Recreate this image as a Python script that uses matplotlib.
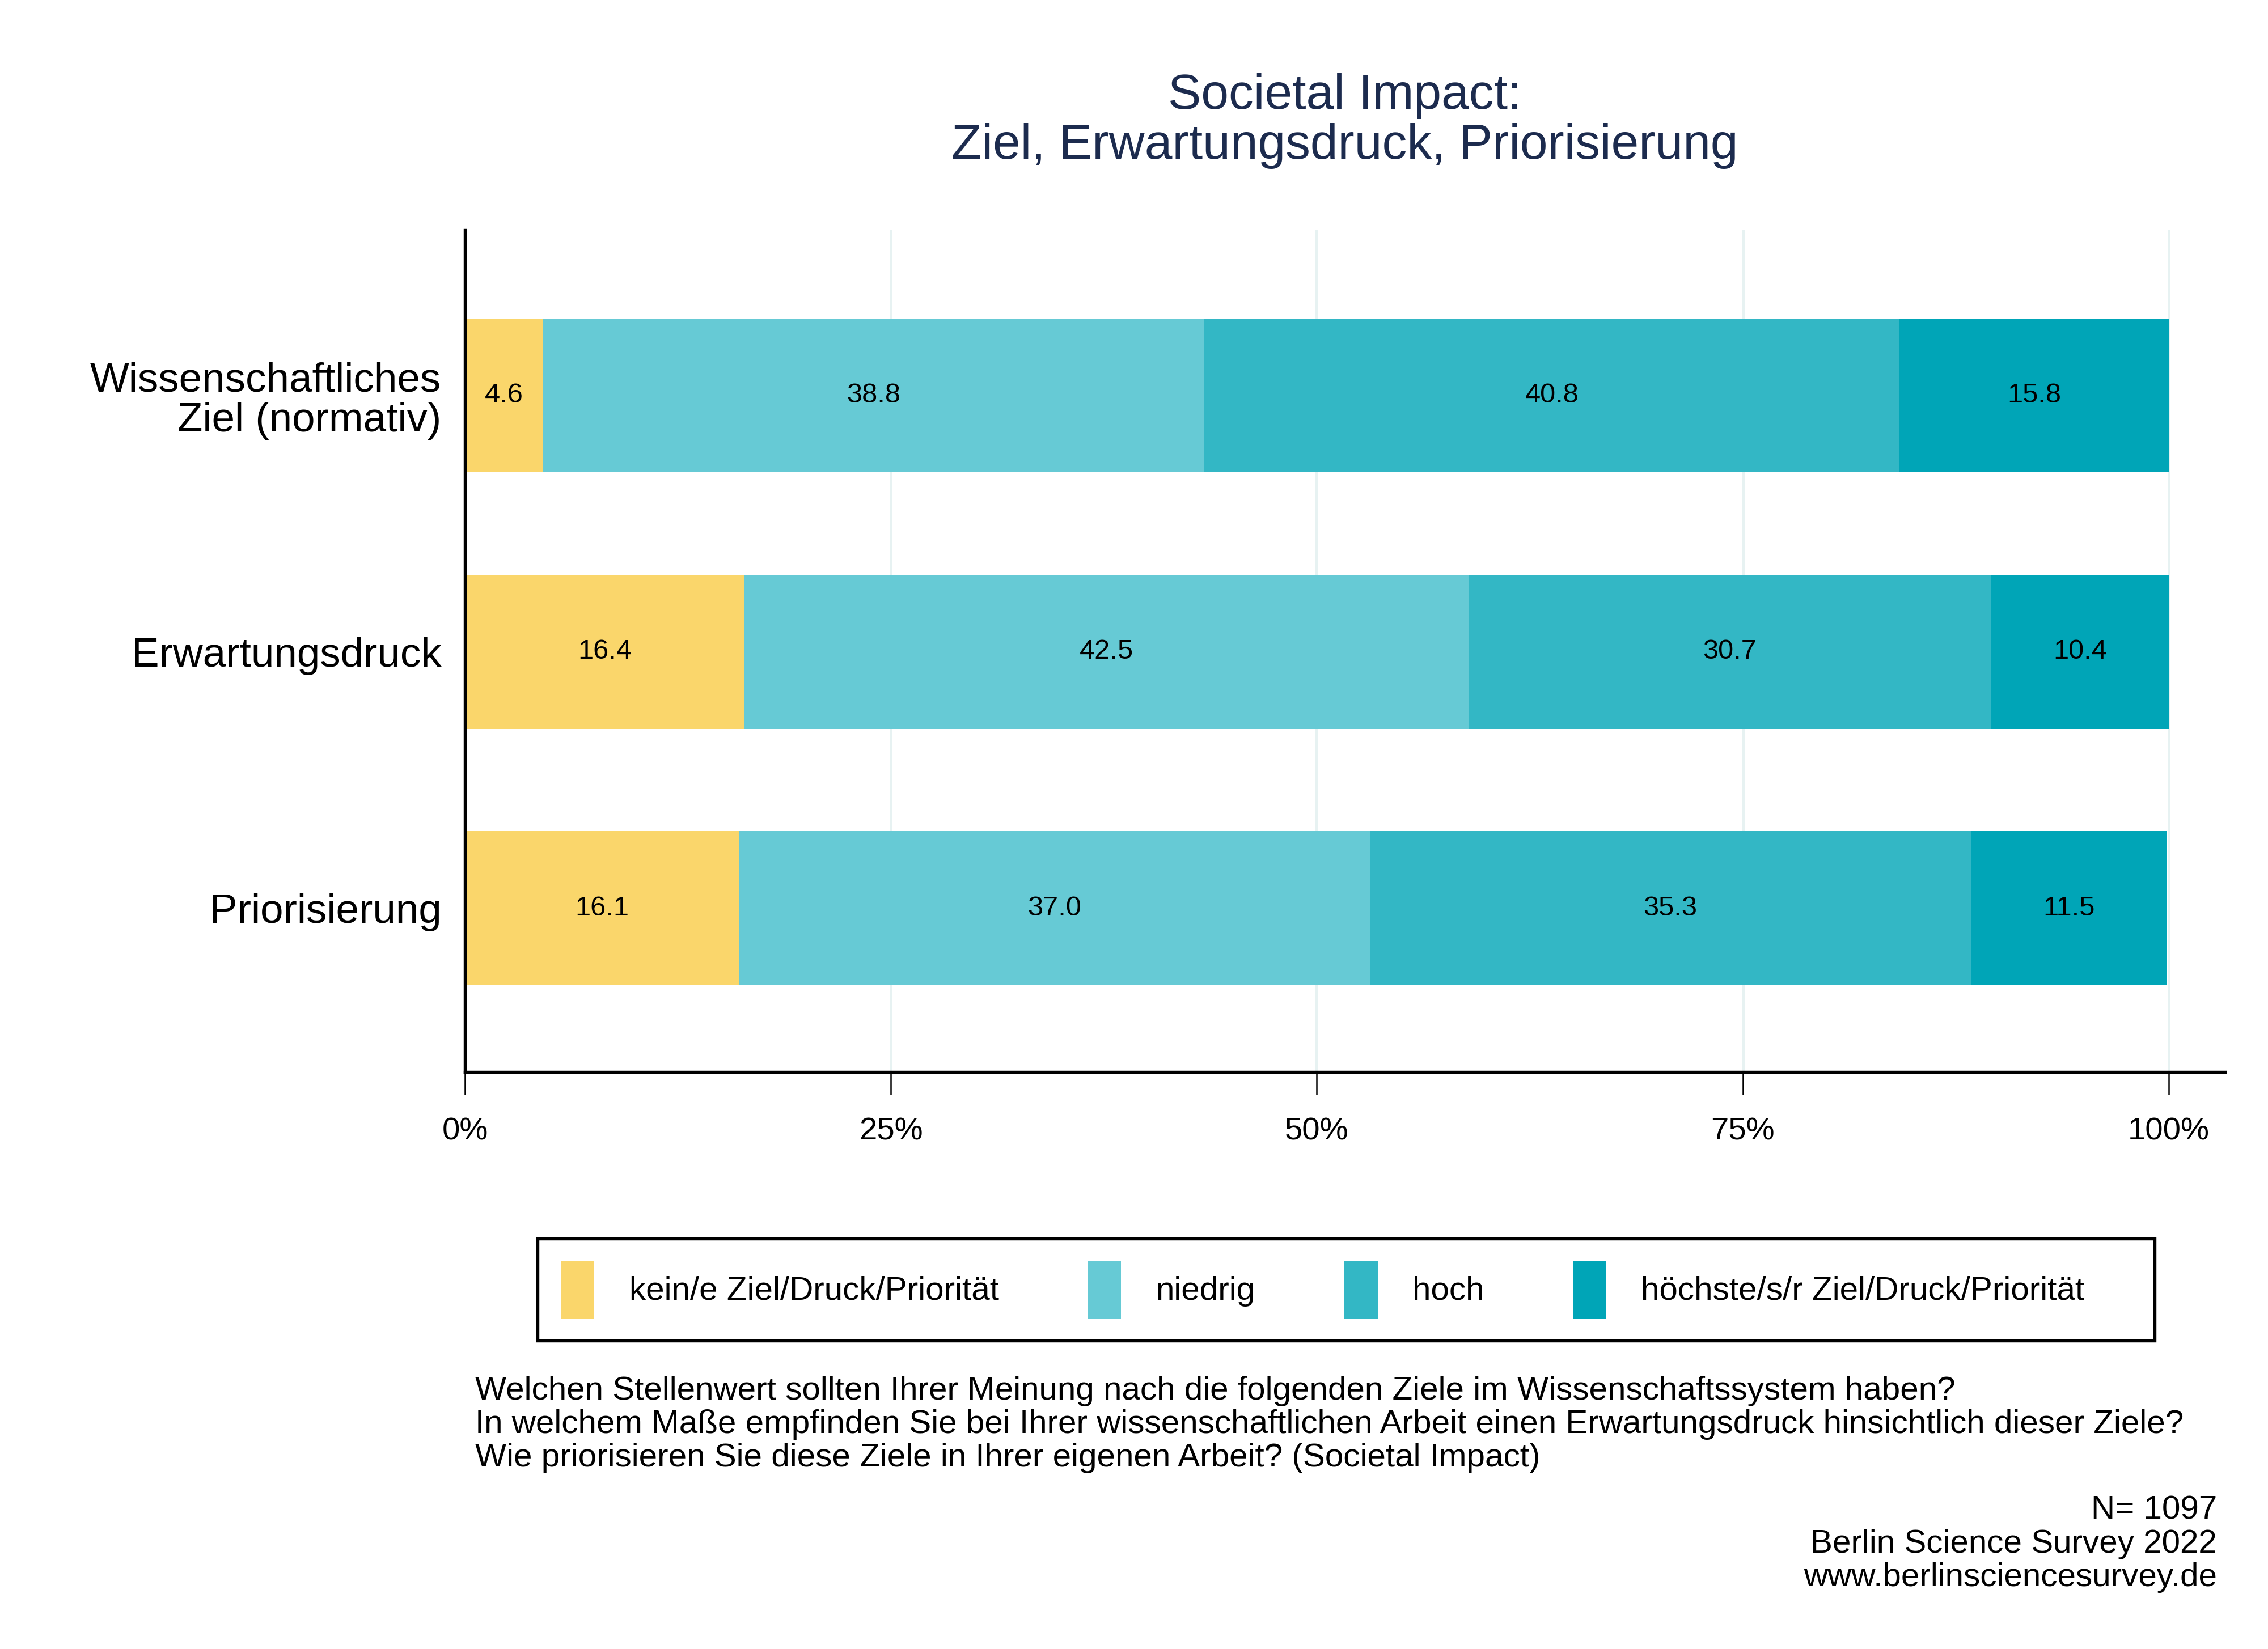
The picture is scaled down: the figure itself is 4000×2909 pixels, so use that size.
import numpy as np
import matplotlib.pyplot as plt
from matplotlib.patches import Patch, Rectangle

plt.rcParams['font.family'] = ['Liberation Sans', 'DejaVu Sans']

# ---------------------------------------------
# Data (percent per answer category)
# ---------------------------------------------
categories = ["Wissenschaftliches\nZiel (normativ)", "Erwartungsdruck", "Priorisierung"]
kein = [4.6, 16.4, 16.1]
niedrig = [38.8, 42.5, 37.0]
hoch = [40.8, 30.7, 35.3]
hoechste = [15.8, 10.4, 11.5]

series_names = ["kein/e Ziel/Druck/Priorität", "niedrig", "hoch",
                "höchste/s/r Ziel/Druck/Priorität"]
colors = ["#FAD66B", "#66CAD5", "#33B7C5", "#00A5B7"]
x_ticks = [0, 25, 50, 75, 100]
x_ticklabels = ["0%", "25%", "50%", "75%", "100%"]

fig = plt.figure(figsize=(4000 / 300, 2909 / 300), dpi=300)
ax = fig.add_axes([0.205, 0.3498, 0.776, 0.5106])

y = np.arange(len(categories))
left = np.zeros(len(categories))
for vals, col in zip([kein, niedrig, hoch, hoechste], colors):
    vals = np.array(vals)
    bars = ax.barh(y, vals, left=left, height=0.6, color=col, edgecolor='none', zorder=2)
    for b, v in zip(bars, vals):
        ax.text(b.get_x() + b.get_width() / 2, b.get_y() + b.get_height() / 2,
                f"{v:.1f}", ha='center', va='center', fontsize=11.7, color='black', zorder=3)
    left += vals

ax.set_xlim(0, 103.3)
ax.set_ylim(2.64, -0.645)
ax.set_yticks(y)
ax.set_yticklabels(categories, fontsize=17.5, linespacing=1.08)
ax.set_xticks(x_ticks)
ax.set_xticklabels(x_ticklabels, fontsize=13.5)
ax.tick_params(axis='y', length=0, pad=10)
ax.tick_params(axis='x', length=9.5, width=0.6, pad=9.5)

for xv in x_ticks[1:]:
    ax.axvline(xv, color='#E7F2F2', linewidth=1.2, zorder=1)

for s in ['top', 'right']:
    ax.spines[s].set_visible(False)
for s in ['left', 'bottom']:
    ax.spines[s].set_linewidth(1.3)
    ax.spines[s].set_color('black')

# Title
fig.text(0.593, 1 - 83 / 1132, "Societal Impact:\nZiel, Erwartungsdruck, Priorisierung",
         ha='center', va='center', fontsize=21, color='#1C2B4E', linespacing=1.12)

# Legend box and entries
fig.patches.append(Rectangle((0.237, 0.187), 0.713, 0.062, transform=fig.transFigure,
                             facecolor='white', edgecolor='black', linewidth=1.3))
handles = [Patch(facecolor=c, edgecolor='none') for c in colors]
fig.legend(handles, series_names, loc='center left', bbox_to_anchor=(0.2475, 0.218),
           ncol=4, frameon=False, fontsize=14, handlelength=1.0, handleheight=2.33,
           handletextpad=1.05, columnspacing=2.7, borderpad=0, borderaxespad=0)

# Question text
caption = ["Welchen Stellenwert sollten Ihrer Meinung nach die folgenden Ziele im Wissenschaftssystem haben?",
           "In welchem Maße empfinden Sie bei Ihrer wissenschaftlichen Arbeit einen Erwartungsdruck hinsichtlich dieser Ziele?",
           "Wie priorisieren Sie diese Ziele in Ihrer eigenen Arbeit? (Societal Impact)"]
for i, line in enumerate(caption):
    fig.text(0.2095, 1 - (955 + 23 * i) / 1132, line, ha='left', va='center', fontsize=14)

source = ["N= 1097", "Berlin Science Survey 2022", "www.berlinsciencesurvey.de"]
for i, line in enumerate(source):
    fig.text(0.9775, 1 - (1037 + 23 * i) / 1132, line, ha='right', va='center', fontsize=14)

fig.savefig("out.png", dpi=300, facecolor='white')
